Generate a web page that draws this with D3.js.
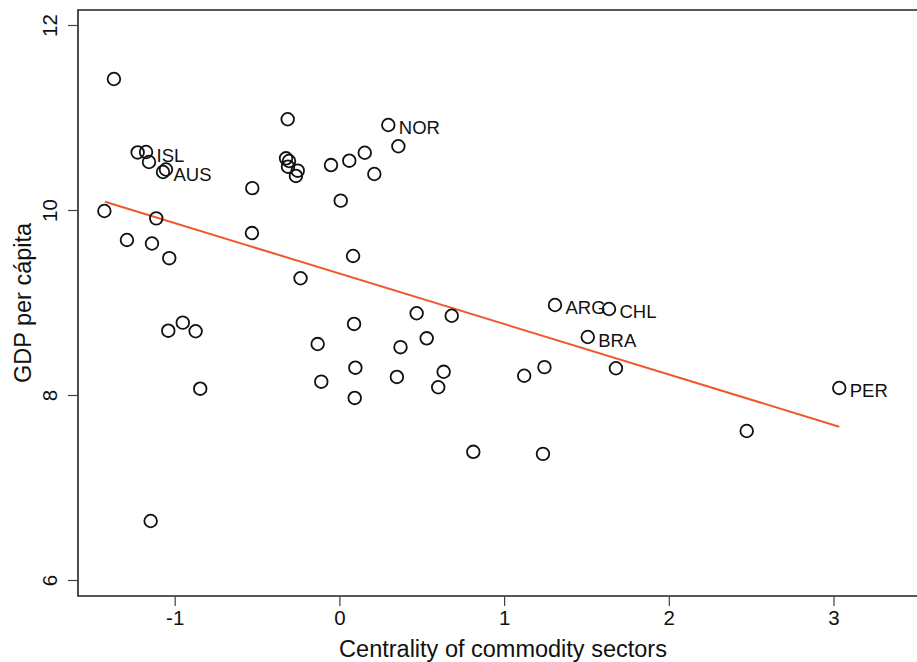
<!DOCTYPE html>
<html>
<head>
<meta charset="utf-8">
<script src="https://cdn.jsdelivr.net/npm/d3@7"></script>
<style>
  html, body { margin: 0; padding: 0; background: #fff; }
  svg { display: block; font-family: "Liberation Sans", Arial, Helvetica, sans-serif; }
</style>
</head>
<body>
<svg id="chart" width="917" height="662"></svg>
<script>
// ---- data ----
const centrality = [
  -1.369, -1.225, -1.174, -1.156, -1.071, -1.053, -1.427, -1.112, -1.290, -1.138,
  -1.033, -0.529, -0.531, -0.314, -0.324, -0.306, -0.312, -0.253, -0.264, -0.051,
   0.060,  0.154,  0.212,  0.008,  0.297,  0.358,  0.083, -0.236, -1.039, -0.951,
  -0.873, -0.845, -1.146,  0.469,  0.682,  0.089, -0.132,  0.371,  0.530,  0.097,
  -0.110,  0.349,  0.633,  0.600,  0.093,  0.813,  1.122,  1.245,  1.236,  1.309,
   1.637,  1.508,  1.679,  2.473,  3.035
];
const gdpPerCapita = [
  11.416, 10.622, 10.627, 10.519, 10.411, 10.438,  9.989,  9.910,  9.676,  9.638,
   9.479, 10.236,  9.751, 10.981, 10.559, 10.530, 10.468, 10.425, 10.368, 10.486,
  10.533, 10.619, 10.389, 10.101, 10.919, 10.689,  9.503,  9.262,  8.695,  8.782,
   8.689,  8.068,  6.638,  8.884,  8.857,  8.768,  8.551,  8.517,  8.613,  8.295,
   8.144,  8.195,  8.251,  8.084,  7.968,  7.386,  8.208,  8.301,  7.364,  8.973,
   8.930,  8.627,  8.289,  7.611,  8.076
];
const countryLabels = [
  "", "", "ISL", "", "AUS", "", "", "", "", "",
  "", "", "", "", "", "", "", "", "", "",
  "", "", "", "", "NOR", "", "", "", "", "",
  "", "", "", "", "", "", "", "", "", "",
  "", "", "", "", "", "", "", "", "", "ARG",
  "CHL", "BRA", "", "", "PER"
];
const fitX = [-1.423, 3.035];
const fitY = [10.090, 7.657];
const xTicks = [-1, 0, 1, 2, 3];
const yTicks = [6, 8, 10, 12];
const xTitle = "Centrality of commodity sectors";
const yTitle = "GDP per cápita";

// ---- layout ----
const svg = d3.select("#chart");
const W = 917, H = 662;
const mLeft = 78, mTop = 10, mBottom = 596;

const x = d3.scaleLinear().domain([-1, 3]).range([174.7, 833.5]);
const y = d3.scaleLinear().domain([6, 12]).range([580, 25]);

// frame (top, left, bottom)
svg.append("path")
  .attr("d", `M${W},${mTop}H${mLeft}V${mBottom}H${W}`)
  .attr("fill", "none").attr("stroke", "#222").attr("stroke-width", 1.6);

// x axis
const gx = svg.append("g").attr("transform", `translate(0,${mBottom})`)
  .call(d3.axisBottom(x).tickValues(xTicks).tickSize(10).tickPadding(4).tickFormat(d => String(d)));
gx.select(".domain").remove();
gx.selectAll("line").attr("stroke", "#444").attr("stroke-width", 1.2);
gx.selectAll("text").attr("font-size", 20.5).attr("fill", "#111")
  .attr("font-family", "Liberation Sans, Arial, sans-serif");

// y axis
const gy = svg.append("g").attr("transform", `translate(${mLeft},0)`)
  .call(d3.axisLeft(y).tickValues(yTicks).tickSize(10).tickFormat(d => String(d)));
gy.select(".domain").remove();
gy.selectAll("line").attr("stroke", "#444").attr("stroke-width", 1.2);
gy.selectAll("text")
  .attr("font-size", 20.5).attr("fill", "#111")
  .attr("font-family", "Liberation Sans, Arial, sans-serif")
  .attr("x", null).attr("dy", null)
  .attr("text-anchor", "middle")
  .attr("transform", "translate(-21,0) rotate(-90)");

// titles
svg.append("text")
  .attr("x", 503).attr("y", 657)
  .attr("text-anchor", "middle").attr("font-size", 23.5).attr("fill", "#111")
  .text(xTitle);
svg.append("text")
  .attr("transform", `translate(31,${(mTop + mBottom) / 2}) rotate(-90)`)
  .attr("text-anchor", "middle").attr("font-size", 23.5).attr("fill", "#111")
  .text(yTitle);

// fit line
svg.append("line")
  .attr("x1", x(fitX[0])).attr("y1", y(fitY[0]))
  .attr("x2", x(fitX[1])).attr("y2", y(fitY[1]))
  .attr("stroke", "#f0582a").attr("stroke-width", 2);

// points
const pts = centrality.map((c, i) => ({ c, g: gdpPerCapita[i], lab: countryLabels[i] }));
svg.append("g").selectAll("circle").data(pts).join("circle")
  .attr("cx", d => x(d.c)).attr("cy", d => y(d.g)).attr("r", 6.3)
  .attr("fill", "none").attr("stroke", "#111").attr("stroke-width", 1.8);

// labels
svg.append("g").selectAll("text").data(pts.filter(d => d.lab)).join("text")
  .attr("x", d => x(d.c) + 10.5).attr("y", d => y(d.g) + 9.5)
  .attr("font-size", 18.5).attr("fill", "#111")
  .text(d => d.lab);
</script>
</body>
</html>
